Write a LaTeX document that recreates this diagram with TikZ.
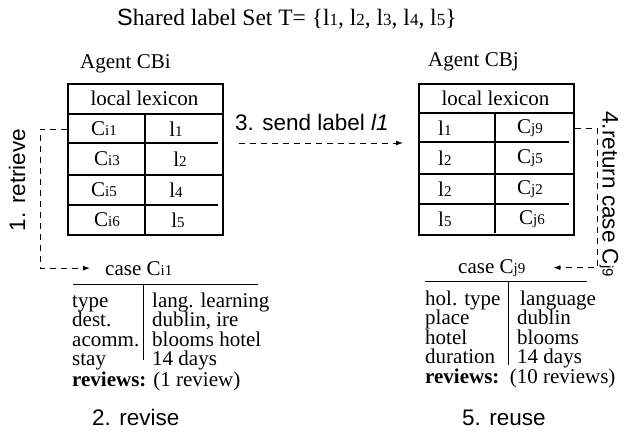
\documentclass[tikz,border=0pt]{standalone}
\usepackage{fontspec}
\setmainfont{Liberation Serif}
\setsansfont{Liberation Sans}
\usetikzlibrary{arrows.meta}
\newcommand{\sbx}[1]{{\fontsize{15}{15}\selectfont #1}}
\newcommand{\tsbx}[1]{{\fontsize{17}{17}\selectfont #1}}
\begin{document}
\begin{tikzpicture}[x=1pt,y=-1pt,
  txt/.style={inner sep=0pt, anchor=base west, font=\fontsize{21}{21}\selectfont},
  titletxt/.style={inner sep=0pt, anchor=base west, font=\fontsize{23.5}{23.5}\selectfont},
  sanstxt/.style={inner sep=0pt, anchor=base west, font=\sffamily\fontsize{22.5}{22.5}\selectfont},
  cell/.style={inner sep=0pt, font=\fontsize{21}{21}\selectfont},
  tbox/.style={draw, line width=1.8pt, inner sep=0pt, anchor=north west, minimum width=155pt, minimum height=151pt},
  rowline/.style={line width=1.8pt},
  divline/.style={line width=1.3pt},
  thinline/.style={line width=1pt},
  dashline/.style={line width=0.9pt, dash pattern=on 6pt off 5pt},
  tip/.style={-{Latex[length=7pt,width=5pt]}}
]
\fill[white] (0,0) rectangle (635,432);
\useasboundingbox (0,0) rectangle (635,432);

% title and agent labels
\node[titletxt] (title) at (117,25) {\textsf{S}hared label Set T= \{l\tsbx{1}, l\tsbx{2}, l\tsbx{3}, l\tsbx{4}, l\tsbx{5}\}};
\node[txt] (agI) at (80,68) {Agent CBi};
\node[txt] (agJ) at (428,66) {Agent CBj};

% left table
\node[tbox] (tI) at (67,83) {};
\draw[rowline] (67,114) -- (222,114);
\draw[rowline] (67,143) -- (218,143);
\draw[rowline] (67,175) -- (222,175);
\draw[rowline] (67,205) -- (218,205);
\draw[divline] (145,114) -- (145,234);
\node[cell] (hI) at (144.5,98) {local lexicon};
\node[cell] (i1a) at (104,129) {C\sbx{i1}};
\node[cell] (i1b) at (176,129) {l\sbx{1}};
\node[cell] (i2a) at (107,159) {C\sbx{i3}};
\node[cell] (i2b) at (180,159) {l\sbx{2}};
\node[cell] (i3a) at (104,190) {C\sbx{i5}};
\node[cell] (i3b) at (176,190) {l\sbx{4}};
\node[cell] (i4a) at (107,220) {C\sbx{i6}};
\node[cell] (i4b) at (178,220) {l\sbx{5}};

% right table
\node[tbox] (tJ) at (418,83) {};
\draw[rowline] (418,113) -- (573,113);
\draw[rowline] (418,142) -- (569,142);
\draw[rowline] (418,174) -- (573,174);
\draw[rowline] (418,204) -- (569,204);
\draw[divline] (495,113) -- (495,233);
\node[cell] (hJ) at (495.5,98) {local lexicon};
\node[cell, anchor=west] (j1a) at (438,128) {l\sbx{1}};
\node[cell] (j1b) at (530,128) {C\sbx{j9}};
\node[cell, anchor=west] (j2a) at (438,158) {l\sbx{2}};
\node[cell] (j2b) at (530,158) {C\sbx{j5}};
\node[cell, anchor=west] (j3a) at (438,189) {l\sbx{2}};
\node[cell] (j3b) at (530,189) {C\sbx{j2}};
\node[cell, anchor=west] (j4a) at (438,219) {l\sbx{5}};
\node[cell] (j4b) at (532,219) {C\sbx{j6}};

% left case
\node[txt] (cI) at (105,275) {case C\sbx{i1}};
\draw[thinline] (73,284) -- (258,284);
\draw[thinline] (143,284) -- (143,360);
\node[txt] (kI1) at (72,307) {type};
\node[txt] (kI2) at (72,326.5) {dest.};
\node[txt] (kI3) at (72,346) {acomm.};
\node[txt] (kI4) at (72,365.5) {stay};
\node[txt] (vI1) at (152,307) {lang. learning};
\node[txt] (vI2) at (152,326.5) {dublin, ire};
\node[txt] (vI3) at (152,346) {blooms hotel};
\node[txt] (vI4) at (152,365.5) {14 days};
\node[txt] (rI) at (72,386) {\textbf{reviews:} (1 review)};

% right case
\node[txt] (cJ) at (458,273) {case C\sbx{j9}};
\draw[thinline] (425,281) -- (587,281);
\draw[thinline] (508,281) -- (508,365);
\node[txt] (kJ1) at (425,305) {hol. type};
\node[txt] (kJ2) at (425,324.5) {place};
\node[txt] (kJ3) at (425,344) {hotel};
\node[txt] (kJ4) at (425,363.5) {duration};
\node[txt] (vJ1) at (520,305) {language};
\node[txt] (vJ2) at (517,324.5) {dublin};
\node[txt] (vJ3) at (517,344) {blooms};
\node[txt] (vJ4) at (517,363.5) {14 days};
\node[txt] (rJ) at (425,383) {\textbf{reviews:}\ \ (10 reviews)};

% step labels
\node[sanstxt, anchor=center, rotate=90] (lret) at (17,180) {1. retrieve};
\node[sanstxt] (lsend) at (235,130) {3. send label \textit{l1}};
\node[sanstxt, anchor=center, rotate=-90] (lreturn) at (609,194) {4.return case C\sbx{j9}};
\node[sanstxt] (lrev) at (92,425) {2. revise};
\node[sanstxt] (lreu) at (462,425) {5. reuse};

% connectors
\coordinate (retc) at (40,200);
\coordinate (sendy) at (0,143);
\coordinate (rtnc) at (597,200);
\draw[dashline, tip] (tI.west |- i1a) -| (retc) |- ([xshift=-15pt]cI.west);
\draw[dashline, tip, shorten <=15pt, shorten >=15pt] (tI.east |- sendy) -- (tJ.west |- sendy);
\draw[dashline, tip] (tJ.east |- j1b) -| (rtnc) |- ([xshift=28pt]cJ.east);
\end{tikzpicture}
\end{document}
